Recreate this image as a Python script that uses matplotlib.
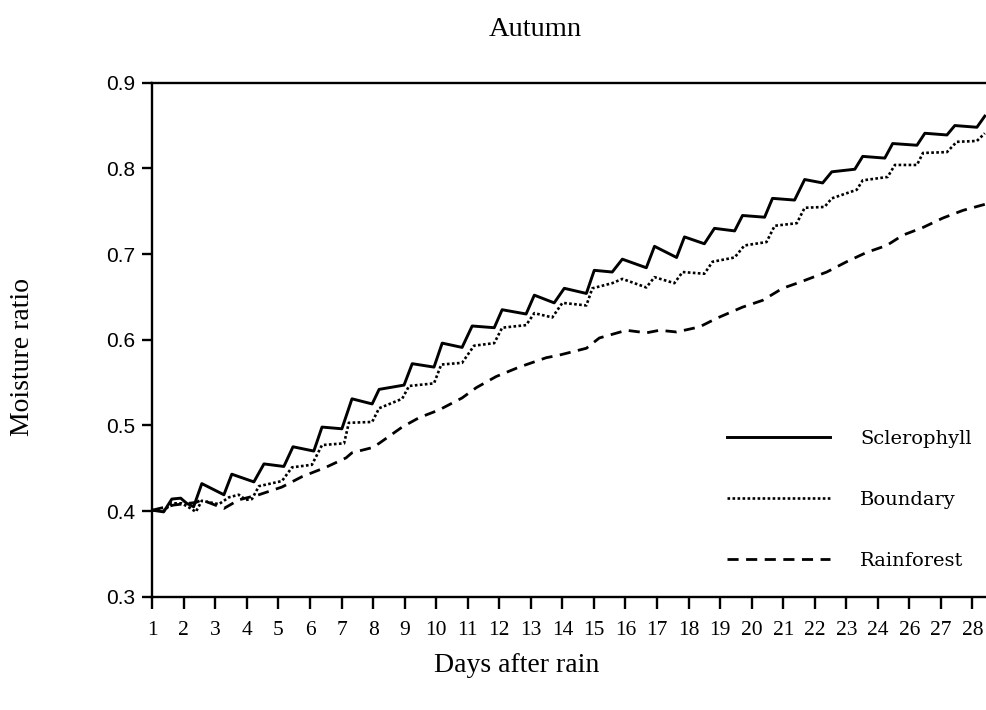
import matplotlib
matplotlib.use("Agg")
import matplotlib.pyplot as plt

# Tick positions 1..27 carry these labels (the original skips "25")
tick_labels = [str(i) for i in range(1, 25)] + ["26", "27", "28"]
y_ticks = [0.3, 0.4, 0.5, 0.6, 0.7, 0.8, 0.9]

scl_x = [1.00, 1.36, 1.62, 1.90, 2.09, 2.31, 2.57, 3.27, 3.52, 4.22, 4.54, 5.17, 5.46, 6.12,
         6.38, 7.01, 7.33, 7.97, 8.19, 8.98, 9.24, 9.93, 10.19, 10.82, 11.14, 11.84, 12.09,
         12.85, 13.11, 13.74, 14.06, 14.76, 15.01, 15.58, 15.90, 16.66, 16.92, 17.62, 17.87,
         18.50, 18.82, 19.46, 19.71, 20.41, 20.66, 21.36, 21.68, 22.25, 22.54, 23.27, 23.52,
         24.22, 24.47, 25.24, 25.49, 26.19, 26.44, 27.14, 27.39]
scl_y = [0.401, 0.399, 0.414, 0.415, 0.409, 0.405, 0.432, 0.419, 0.443, 0.434, 0.455, 0.452,
         0.475, 0.470, 0.498, 0.496, 0.531, 0.525, 0.542, 0.547, 0.572, 0.568, 0.596, 0.591,
         0.616, 0.614, 0.635, 0.630, 0.652, 0.643, 0.660, 0.654, 0.681, 0.679, 0.694, 0.684,
         0.709, 0.696, 0.720, 0.712, 0.730, 0.727, 0.745, 0.743, 0.765, 0.763, 0.787, 0.783,
         0.796, 0.799, 0.814, 0.812, 0.829, 0.827, 0.841, 0.839, 0.850, 0.848, 0.861]

bnd_x = [1.00, 1.36, 1.62, 1.93, 2.22, 2.38, 2.57, 3.11, 3.43, 3.74, 3.97, 4.16, 4.38, 5.11,
         5.43, 6.06, 6.38, 7.08, 7.23, 7.97, 8.19, 8.92, 9.14, 9.93, 10.16, 10.82, 11.20,
         11.84, 12.09, 12.85, 13.11, 13.68, 14.00, 14.76, 14.95, 15.58, 15.90, 16.66, 16.92,
         17.55, 17.81, 18.50, 18.76, 19.46, 19.77, 20.47, 20.73, 21.43, 21.68, 22.31, 22.54,
         23.33, 23.52, 24.31, 24.54, 25.24, 25.43, 26.19, 26.50, 27.14, 27.39]
bnd_y = [0.401, 0.400, 0.409, 0.409, 0.403, 0.399, 0.412, 0.408, 0.416, 0.419, 0.413, 0.414,
         0.429, 0.435, 0.451, 0.454, 0.477, 0.479, 0.503, 0.504, 0.520, 0.531, 0.546, 0.549,
         0.571, 0.573, 0.593, 0.596, 0.614, 0.617, 0.631, 0.626, 0.643, 0.640, 0.660, 0.666,
         0.671, 0.661, 0.673, 0.666, 0.679, 0.677, 0.691, 0.696, 0.710, 0.714, 0.733, 0.736,
         0.754, 0.755, 0.765, 0.775, 0.786, 0.790, 0.804, 0.804, 0.818, 0.819, 0.831, 0.832,
         0.841]

rnf_x = [1.00, 1.68, 2.38, 2.57, 3.27, 3.74, 4.38, 5.11, 5.74, 6.50, 7.14, 7.33, 7.97, 8.19,
         8.92, 9.46, 10.09, 10.82, 11.27, 11.90, 12.63, 13.49, 13.90, 14.76, 15.17, 16.03,
         16.66, 17.08, 17.62, 18.35, 18.89, 19.71, 20.35, 20.98, 21.52, 22.38, 23.01, 23.65,
         24.28, 24.79, 25.43, 26.06, 26.70, 27.39]
rnf_y = [0.401, 0.407, 0.410, 0.413, 0.403, 0.413, 0.419, 0.428, 0.440, 0.451, 0.462, 0.468,
         0.474, 0.479, 0.498, 0.509, 0.518, 0.532, 0.544, 0.557, 0.568, 0.579, 0.582, 0.590,
         0.602, 0.611, 0.608, 0.611, 0.609, 0.615, 0.625, 0.638, 0.646, 0.660, 0.667, 0.679,
         0.691, 0.702, 0.710, 0.722, 0.731, 0.742, 0.751, 0.758]

series_names = ["Sclerophyll", "Boundary", "Rainforest"]

fig = plt.figure(figsize=(9.87, 7.10), dpi=100)
ax = fig.add_axes([0.1543, 0.1596, 0.8457, 0.7239])

ax.plot(scl_x, scl_y, color="black", lw=2.1, ls="-", label=series_names[0])
ax.plot(bnd_x, bnd_y, color="black", lw=1.9, ls=(0, (1, 0.9)), label=series_names[1])
ax.plot(rnf_x, rnf_y, color="black", lw=2.0, ls=(0, (4.0, 2.7)), label=series_names[2])

ax.set_xlim(1, 27.46)
ax.set_ylim(0.3, 0.9)
ax.set_xticks(range(1, 28))
ax.set_xticklabels(tick_labels, family="Liberation Serif", fontsize=15.5)
ax.set_yticks(y_ticks)
ax.set_yticklabels([f"{v:.1f}" for v in y_ticks], family="Liberation Sans", fontsize=15)

for s in ["left", "bottom", "top"]:
    ax.spines[s].set_linewidth(1.7)
ax.spines["right"].set_visible(False)
ax.tick_params(axis="x", direction="out", length=8.5, width=1.7, pad=9)
ax.tick_params(axis="y", direction="out", length=7, width=1.7, pad=5)

ax.set_xlabel("Days after rain", family="Liberation Serif", fontsize=20, va="center")
ax.xaxis.set_label_coords(0.437, -0.133)
ax.set_ylabel("Moisture ratio", family="Liberation Serif", fontsize=20, va="center", ha="center")
ax.yaxis.set_label_coords(-0.156, 0.466)

fig.text(535 / 987, 1 - 30 / 710, "Autumn", family="Liberation Serif", fontsize=20.5,
         ha="center", va="center")

leg = ax.legend(loc="upper left", bbox_to_anchor=(0.6885, 0.3244), frameon=False,
                borderpad=0, borderaxespad=0, handlelength=5.3, handletextpad=1.55,
                labelspacing=2.2, prop={"family": "DejaVu Serif", "size": 14})

fig.savefig("out.png", dpi=100)
